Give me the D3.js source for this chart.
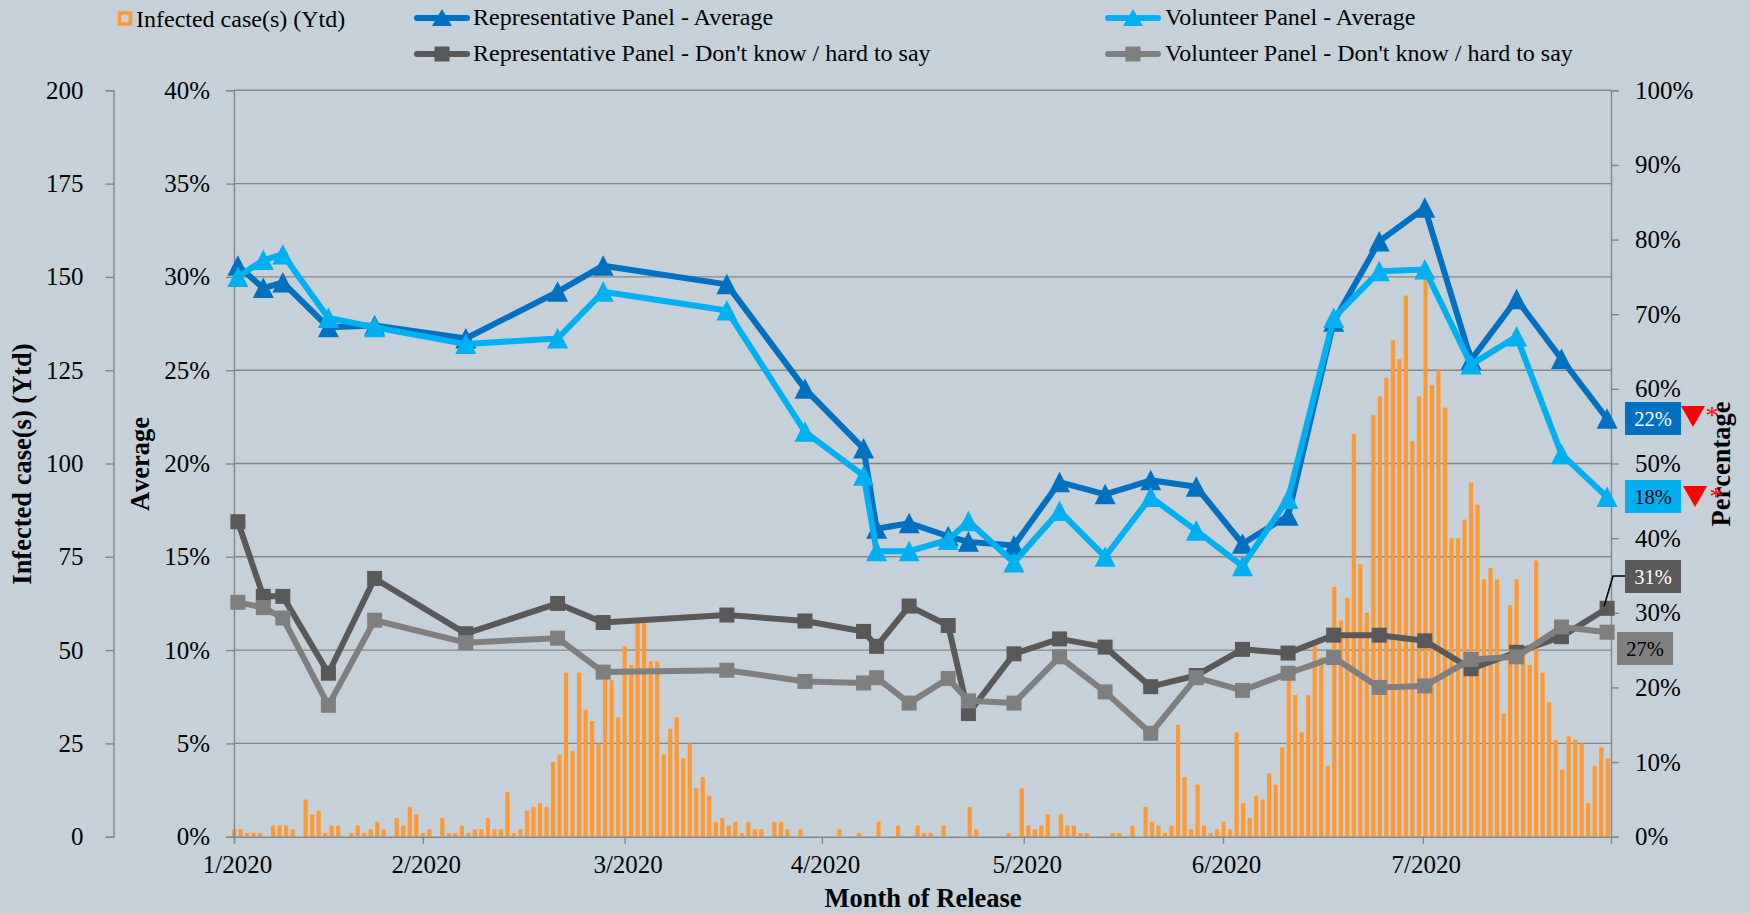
<!DOCTYPE html>
<html>
<head>
<meta charset="utf-8">
<script src="https://cdn.jsdelivr.net/npm/d3@7"></script>
<style>
  html, body { margin: 0; padding: 0; background: #c5d0d8; }
  text { font-family: "Liberation Serif", "Times New Roman", serif; fill: #000; }
</style>
</head>
<body>
<div id="chart"></div>
<script>
// Daily infected cases, one bar per day of the axis (left outer axis 0-200)
const dailyCases = [
  2,2,1,1,1,0,3,3,3,2,0,10,6,7,1,3,3,0,1,3,1,2,4,2,0,5,3,8,6,1,2,0,5,1,1,3,1,2,2,5,
  2,2,12,1,2,7,8,9,8,20,22,44,23,44,34,31,25,43,42,32,51,46,58,58,47,47,22,29,32,21,25,13,16,11,4,5,3,4,1,4,
  2,2,0,4,4,2,0,2,0,0,0,0,0,2,0,0,1,0,0,4,0,0,3,0,0,3,1,1,0,3,0,0,0,8,2,0,0,0,0,1,
  0,13,3,2,3,6,0,6,3,3,1,1,0,0,0,1,1,0,3,0,8,4,3,1,3,30,16,2,14,3,1,2,4,2,28,9,5,11,10,17,
  14,24,44,38,28,38,51,48,19,67,58,64,108,73,60,113,118,123,133,128,145,106,118,150,121,125,115,80,80,85,95,89,69,72,69,33,62,69,49,46,
  74,44,36,26,18,27,26,25,9,19,24,21
];

// Survey release positions, in days along the axis
const surveyDays = [0.6,4.5,7.5,14.5,21.6,35.6,49.7,56.7,75.7,87.7,96.7,98.7,103.7,109.7,112.8,119.8,126.8,133.8,140.8,147.8,154.9,161.9,168.9,175.9,182.9,190,197,203.9,210.9];

const repAverage = [30.6,29.4,29.7,27.3,27.4,26.7,29.2,30.6,29.6,24.0,20.8,16.5,16.8,16.1,15.8,15.6,19.0,18.35,19.1,18.75,15.7,17.2,27.6,31.9,33.7,25.55,28.8,25.6,22.4];
const volAverage = [30.0,30.9,31.2,27.8,27.3,26.4,26.7,29.2,28.2,21.7,19.35,15.3,15.3,15.9,16.9,14.7,17.45,15.0,18.2,16.4,14.5,18.1,27.8,30.3,30.4,25.3,26.8,20.5,18.2];
const repDontKnow = [42.2,32.2,32.2,21.9,34.6,27.2,31.25,28.7,29.7,28.9,27.5,25.5,30.9,28.3,16.5,24.5,26.5,25.4,20.1,21.6,25.1,24.6,27.0,27.0,26.25,22.5,24.7,26.8,30.6];
const volDontKnow = [31.4,30.7,29.3,17.6,29.0,26.0,26.6,22.05,22.3,20.8,20.6,21.3,17.9,21.2,18.2,17.9,24.1,19.4,13.85,21.3,19.6,21.9,24.0,20.0,20.2,23.75,24.1,28.1,27.4];

const monthLabels = ["1/2020","2/2020","3/2020","4/2020","5/2020","6/2020","7/2020"];
const monthTickDays = [0,29,60,90.3,121.3,151.9,182.6];
const casesTicks = [0,25,50,75,100,125,150,175,200];
const averageTicks = [0,5,10,15,20,25,30,35,40];
const percentTicks = [0,10,20,30,40,50,60,70,80,90,100];

const width = 1750, height = 913;
const plot = { left: 234, right: 1611, top: 90.3, bottom: 836.7 };
const axisGrey = "#868686";
const orange = "#ff9933", blue = "#0070c0", sky = "#00b0f0", darkGrey = "#595959", midGrey = "#7f7f7f";

const svg = d3.select("#chart").append("svg")
  .attr("width", width)
  .attr("height", height)
  .style("display", "block");

svg.append("rect").attr("width", width).attr("height", height).attr("fill", "#c5d0d8");

const x = d3.scaleLinear().domain([0, 211.5]).range([plot.left, plot.right]);
const yCases = d3.scaleLinear().domain([0, 200]).range([plot.bottom, plot.top]);
const yAverage = d3.scaleLinear().domain([0, 40]).range([plot.bottom, plot.top]);
const yPercent = d3.scaleLinear().domain([0, 100]).range([plot.bottom, plot.top]);

// Gridlines
svg.append("g").selectAll("line")
  .data(averageTicks.slice(1))
  .enter().append("line")
  .attr("x1", plot.left)
  .attr("x2", plot.right)
  .attr("y1", d => yAverage(d))
  .attr("y2", d => yAverage(d))
  .attr("stroke", axisGrey)
  .attr("stroke-width", 1.4);

// Bars
svg.append("g").selectAll("rect")
  .data(dailyCases.map((v, i) => ({ day: i, v })).filter(d => d.v > 0))
  .enter().append("rect")
  .attr("x", d => Math.max(x(d.day) - 2.1, plot.left - 2))
  .attr("y", d => yCases(d.v))
  .attr("width", 4.2)
  .attr("height", d => plot.bottom - yCases(d.v))
  .attr("rx", 1)
  .attr("fill", orange);

// Axes
function styleAxis(g) {
  g.selectAll("path,line").attr("stroke", axisGrey).attr("stroke-width", 1.4);
  g.selectAll("text")
    .style("font-family", '"Liberation Serif", serif')
    .style("font-size", "25px")
    .attr("fill", "#111");
}

svg.append("g")
  .attr("transform", `translate(113.5,0)`)
  .call(d3.axisLeft(yCases).tickValues(casesTicks).tickSize(8).tickPadding(22))
  .call(styleAxis);

svg.append("g")
  .attr("transform", `translate(${plot.left},0)`)
  .call(d3.axisLeft(yAverage).tickValues(averageTicks).tickSize(8).tickPadding(16).tickFormat(d => d + "%"))
  .call(styleAxis);

svg.append("g")
  .attr("transform", `translate(${plot.right},0)`)
  .call(d3.axisRight(yPercent).tickValues(percentTicks).tickSize(8).tickPadding(16).tickFormat(d => d + "%"))
  .call(styleAxis);

const xAxis = d3.axisBottom(x)
  .tickValues(monthTickDays)
  .tickSize(7)
  .tickPadding(12)
  .tickFormat((d, i) => monthLabels[i]);

svg.append("g")
  .attr("transform", `translate(0,${plot.bottom})`)
  .call(xAxis)
  .call(styleAxis)
  .selectAll("text")
  .attr("dx", 3);

// Lines and markers
function drawSeries(values, yScale, colour, shape) {
  const line = d3.line().x((d, i) => x(surveyDays[i])).y(d => yScale(d));
  svg.append("path")
    .datum(values)
    .attr("fill", "none")
    .attr("stroke", colour)
    .attr("stroke-width", 6)
    .attr("stroke-linejoin", "round")
    .attr("d", line);

  const symbol = shape === "triangle"
    ? "M0,-10.5L10.5,10L-10.5,10Z"
    : d3.symbol().type(d3.symbolSquare).size(225)();

  svg.append("g").selectAll("path")
    .data(values)
    .enter().append("path")
    .attr("d", symbol)
    .attr("fill", colour)
    .attr("transform", (d, i) => `translate(${x(surveyDays[i])},${yScale(d)})`);
}

drawSeries(repDontKnow, yPercent, darkGrey, "square");
drawSeries(volDontKnow, yPercent, midGrey, "square");
drawSeries(repAverage, yAverage, blue, "triangle");
drawSeries(volAverage, yAverage, sky, "triangle");

// Axis titles
function axisTitle(txt, tx, ty, rotate, size) {
  svg.append("text")
    .attr("transform", `translate(${tx},${ty}) rotate(${rotate})`)
    .attr("text-anchor", "middle")
    .style("font-size", size + "px")
    .style("font-weight", "bold")
    .style("font-kerning", "none")
    .text(txt);
}
axisTitle("Infected case(s) (Ytd)", 31, 464, -90, 26.5);
axisTitle("Average", 149, 464, -90, 26.5);
axisTitle("Percentage", 1730, 464, -90, 26.5);
axisTitle("Month of Release", 923, 907, 0, 26.5);

// Legend
const legendItems = [
  { label: "Representative Panel - Average", colour: blue, shape: "triangle", lx: 414, tx: 473, ly: 18 },
  { label: "Volunteer Panel - Average", colour: sky, shape: "triangle", lx: 1105, tx: 1165, ly: 18 },
  { label: "Representative Panel - Don't know / hard to say", colour: darkGrey, shape: "square", lx: 414, tx: 473, ly: 54 },
  { label: "Volunteer Panel - Don't know / hard to say", colour: midGrey, shape: "square", lx: 1105, tx: 1165, ly: 54 }
];

const legend = svg.append("g").selectAll("g").data(legendItems).enter().append("g");
legend.append("line")
  .attr("x1", d => d.lx + 3)
  .attr("x2", d => d.lx + 53)
  .attr("y1", d => d.ly)
  .attr("y2", d => d.ly)
  .attr("stroke", d => d.colour)
  .attr("stroke-width", 6)
  .attr("stroke-linecap", "round");
legend.append("path")
  .attr("d", d => d.shape === "triangle"
    ? "M0,-9L10,8L-10,8Z"
    : d3.symbol().type(d3.symbolSquare).size(225)())
  .attr("fill", d => d.colour)
  .attr("transform", d => `translate(${d.lx + 28},${d.ly})`);
legend.append("text")
  .attr("x", d => d.tx)
  .attr("y", d => d.ly + 7)
  .style("font-size", "24px")
  .text(d => d.label);

svg.append("rect")
  .attr("x", 119.5).attr("y", 13).attr("width", 11).attr("height", 11)
  .attr("fill", "none").attr("stroke", orange).attr("stroke-width", 3.5);
svg.append("text")
  .attr("x", 136).attr("y", 27)
  .style("font-size", "24px")
  .text("Infected case(s) (Ytd)");

// End labels
const endLabels = [
  { text: "22%", bx: 1625, by: 402, fill: blue, ink: "#fff" },
  { text: "18%", bx: 1625, by: 480, fill: sky, ink: "#000" },
  { text: "31%", bx: 1625, by: 560, fill: darkGrey, ink: "#fff" },
  { text: "27%", bx: 1617, by: 632, fill: midGrey, ink: "#000" }
];
const boxes = svg.append("g").selectAll("g").data(endLabels).enter().append("g");
boxes.append("rect")
  .attr("x", d => d.bx).attr("y", d => d.by)
  .attr("width", 56).attr("height", 33)
  .attr("fill", d => d.fill);
boxes.append("text")
  .attr("x", d => d.bx + 28).attr("y", d => d.by + 24)
  .attr("text-anchor", "middle")
  .style("font-size", "20.5px")
  .style("fill", d => d.ink)
  .text(d => d.text);

// Leader from the 31% box to its point
svg.append("path")
  .attr("d", d3.line()([
    [x(surveyDays[28]) - 3, yPercent(repDontKnow[28]) - 2],
    [plot.right + 2, 576],
    [1625, 576]
  ]))
  .attr("fill", "none")
  .attr("stroke", "#000")
  .attr("stroke-width", 1.6);

// Significance flags next to the average labels
const flags = [
  { fx: 1693, fy: 406, sx: 1712, sy: 424 },
  { fx: 1695, fy: 486, sx: 1716, sy: 505 }
];
const flagGroups = svg.append("g").selectAll("g").data(flags).enter().append("g");
flagGroups.append("path")
  .attr("d", "M-12,0L12,0L0,21Z")
  .attr("fill", "#ff0000")
  .attr("transform", d => `translate(${d.fx},${d.fy})`);
flagGroups.append("text")
  .attr("x", d => d.sx).attr("y", d => d.sy)
  .attr("text-anchor", "middle")
  .style("font-size", "26px")
  .style("fill", "#ff0000")
  .text("*");
</script>
</body>
</html>
